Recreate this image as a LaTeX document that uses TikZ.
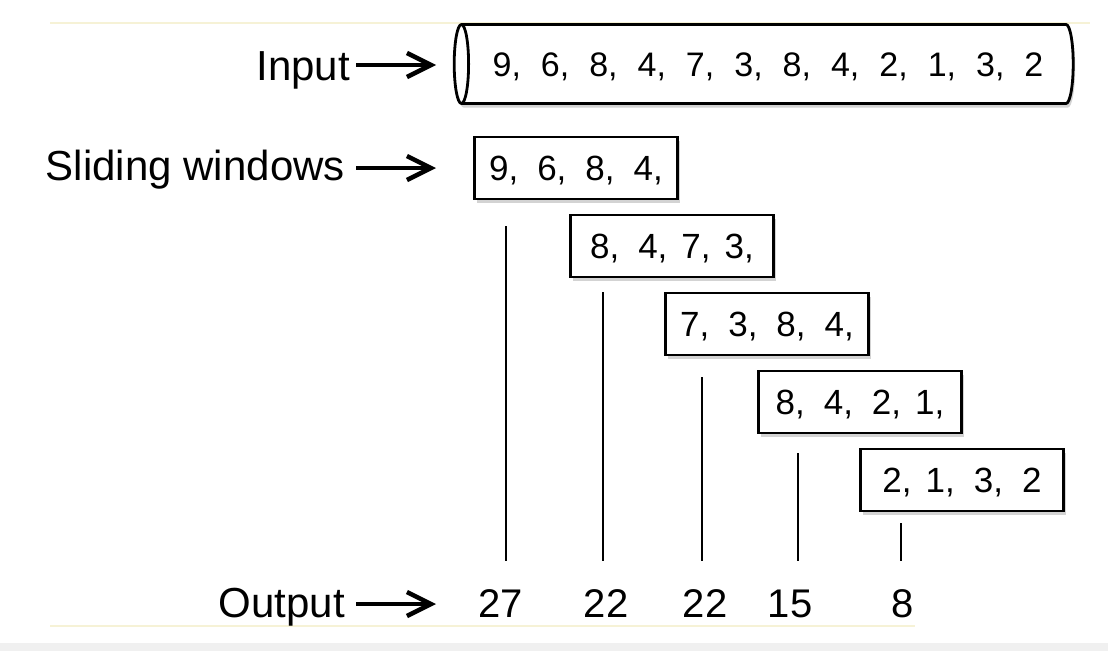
\documentclass[tikz,border=0pt]{standalone}
\usepackage{fontspec}
\setmainfont{Liberation Sans}
\usetikzlibrary{arrows.meta,shapes.geometric,shadows}
\definecolor{paleline}{RGB}{246,242,214}
\definecolor{band}{RGB}{240,240,240}
\newcommand{\gap}{\hspace{19pt}}
\newcommand{\ngap}{\hspace{14pt}}
\newcommand{\tgap}{\hspace{20pt}}

\begin{document}
\begin{tikzpicture}[x=1pt,y=1pt,
  label node/.style={font=\fontsize{42}{48}\selectfont,inner sep=0pt},
  window/.style={draw,fill=white,line width=2.8pt,minimum width=203pt,minimum height=62pt,
    inner sep=0pt,font=\fontsize{35}{42}\selectfont,text height=25pt,text depth=0pt,
    drop shadow={shadow xshift=2pt,shadow yshift=-4pt,opacity=.35}},
  tube/.style={cylinder,shape border rotate=180,aspect=0.6,draw,fill=white,line width=2.8pt,
    minimum width=79pt,minimum height=619pt,inner sep=0pt,font=\fontsize{34}{40}\selectfont,
    text height=24pt,text depth=0pt,drop shadow={shadow xshift=2pt,shadow yshift=-4pt,opacity=.35}},
  big arrow/.style={-{Straight Barb[length=24pt,width=24pt]},line width=4.5pt},
  out node/.style={font=\fontsize{40}{48}\selectfont,inner sep=0pt,anchor=base},
  tick/.style={line width=2pt}]
  \useasboundingbox (0,0) rectangle (1108,-651);
  % page marks
  \fill[band] (0,-643) rectangle (1108,-651);
  \draw[paleline,line width=2pt] (50,-23) -- (1090,-23);
  \draw[paleline,line width=2pt] (50,-626) -- (915,-626);

  % input stream
  \node[label node,anchor=base east] (in) at (350,-80) {Input};
  \node[tube] (0) at (768,-64) {9,\tgap 6,\tgap 8,\tgap 4,\tgap 7,\tgap 3,\tgap 8,\tgap 4,\tgap 2,\tgap 1,\tgap 3,\tgap 2};

  % windows
  \node[label node,anchor=base east] (sw) at (345,-180) {Sliding windows};
  \node[window] (1) at (576,-168) {9,\gap 6,\gap 8,\gap 4,};
  \node[window] (2) at (672,-246) {8,\gap 4,\ngap 7,\ngap 3,};
  \node[window] (3) at (767,-324) {7,\gap 3,\gap 8,\gap 4,};
  \node[window] (4) at (860,-402) {8,\gap 4,\gap 2,\ngap 1,};
  \node[window] (5) at (962,-480) {2,\ngap 1,\gap 3,\gap 2};

  % output
  \node[label node,anchor=base east] (out) at (345,-617) {Output};
  \node[out node] (o1) at (501,-617) {27};
  \node[out node] (o2) at (606,-617) {22};
  \node[out node] (o3) at (705,-617) {22};
  \node[out node] (o4) at (790,-617) {15};
  \node[out node] (o5) at (903,-617) {8};

  \coordinate (a1) at (356,-65);   \coordinate (b1) at (436,-65);
  \coordinate (a2) at (356,-168);  \coordinate (b2) at (436,-168);
  \coordinate (a3) at (356,-604);  \coordinate (b3) at (436,-604);
  \foreach \i in {1,2,3}
    \draw[big arrow] (a\i) -- (b\i);

  \foreach \x/\t [count=\i] in {506/226,603/292,702/377,798/453,901/523} {
    \coordinate (s\i) at (\x,-\t);
    \coordinate (e\i) at (\x,-561);
    \draw[tick] (s\i) -- (e\i);
  }
\end{tikzpicture}
\end{document}
